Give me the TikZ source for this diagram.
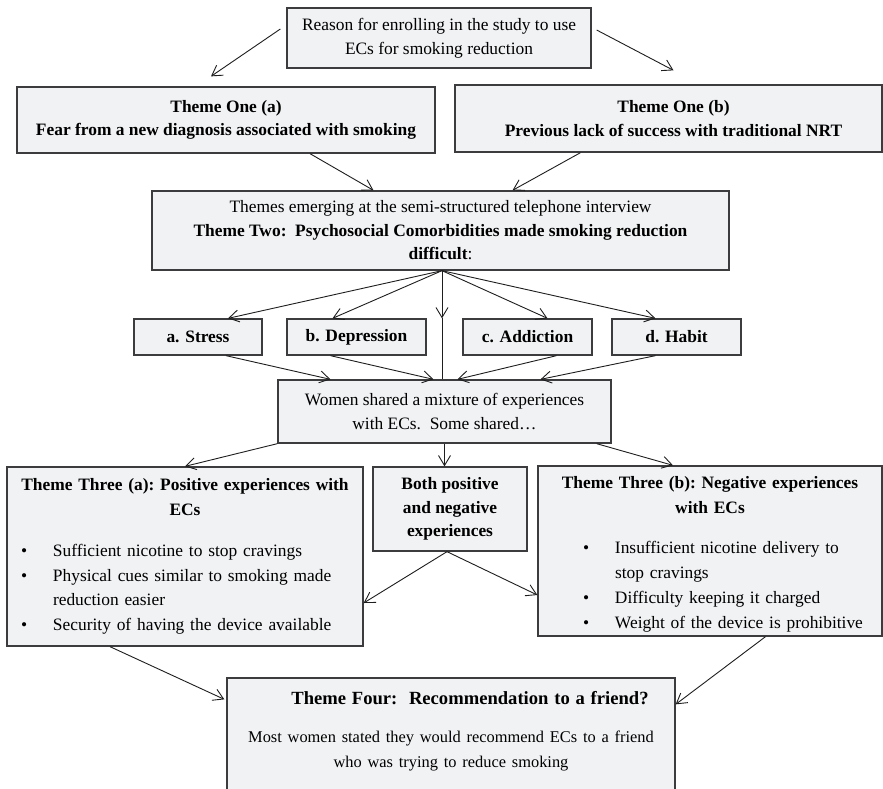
\documentclass[tikz,border=0pt]{standalone}
\usepackage{fontspec}
\setmainfont{Liberation Serif}
\usetikzlibrary{arrows.meta,positioning,calc}
\definecolor{boxfill}{RGB}{241,242,244}
\definecolor{boxline}{RGB}{60,60,62}
\definecolor{ink}{RGB}{30,30,30}
\tikzset{
  >={Straight Barb[length=10pt,width=12pt]},
  box/.style={draw=boxline,fill=boxfill,line width=1.3pt,inner sep=0pt,align=center,
    font=\fontsize{17.4}{23.5}\selectfont\frenchspacing},
  theme/.style={box,font=\fontsize{17.4}{23.5}\selectfont\bfseries},
  listbox/.style={box,align=left,font=\fontsize{17.4}{#1}\selectfont\frenchspacing},
  listbox/.default=24.5,
  link/.style={line width=0.9pt,draw=ink},
  flow/.style={link,->},
}
% bullet line: #1 bullet indent, #2 text indent
\newcommand{\bitem}[3]{\par\hangindent=#2\hangafter=1\noindent\makebox[#2][l]{\hspace*{#1}\textbullet}#3}

\begin{document}
\begin{tikzpicture}[x=1pt,y=-1pt]
  \useasboundingbox (0,0) rectangle (883,788);
  \clip (0,0) rectangle (883,788);
  \fill[white] (0,0) rectangle (883,788);

  \node[box,minimum width=304,minimum height=60] (reason) at (439,38)
    {Reason for enrolling in the study to use\\ECs for smoking reduction};
  \node[theme,minimum width=418,minimum height=66] (onea) at (226,120)
    {Theme One (a)\\Fear from a new diagnosis associated with smoking};
  \node[theme,minimum width=427,minimum height=67] (oneb) at (668.5,118.5)
    {\hspace*{10pt}Theme One (b)\\\hspace*{10pt}Previous lack of success with traditional NRT};
  \node[box,minimum width=577,minimum height=79] (two) at (440.5,230.5)
    {Themes emerging at the semi-structured telephone interview\\
     \textbf{Theme Two:\ \ Psychosocial Comorbidities made smoking reduction}\\
     \textbf{difficult}:};
  \foreach \n/\x/\w/\t in {stress/198/128/a. Stress,depr/356.5/139/b. Depression,
      addic/527.5/129/c. Addiction,habit/676.5/129/d. Habit}
    \node[theme,minimum width=\w,minimum height=36] (\n) at (\x,337) {\t};
  \node[box,minimum width=333,minimum height=63] (women) at (444.5,411.5)
    {Women shared a mixture of experiences\\with ECs.\ \ Some shared…};
  \node[listbox,text width=340,minimum width=356,minimum height=179] (threea) at (185,556.5)
    {{\centering\bfseries Theme Three (a): Positive experiences with\\ECs\par}\vspace{17pt}
     \bitem{6pt}{38pt}{Sufficient nicotine to stop cravings}
     \bitem{6pt}{38pt}{Physical cues similar to smoking made\newline reduction easier}
     \bitem{6pt}{38pt}{Security of having the device available}};
  \node[theme,minimum width=154,minimum height=84] (both) at (450,509)
    {Both positive\\and negative\\experiences};
  \node[listbox=25,text width=328,minimum width=344,minimum height=170] (threeb) at (710,551)
    {{\centering\bfseries\rule{0pt}{19pt}Theme Three (b): Negative experiences\\with ECs\par}\vspace{15pt}
     \bitem{37pt}{69pt}{Insufficient nicotine delivery to\newline stop cravings}
     \bitem{37pt}{69pt}{Difficulty keeping it charged}
     \bitem{37pt}{69pt}{Weight of the device is prohibitive}};
  \node[box,text width=440,minimum width=448,minimum height=124] (four) at (451,740)
    {{\fontsize{18.6}{24}\selectfont\bfseries\hspace*{38pt}Theme Four:\ \ Recommendation to a friend?\par}\vspace{13pt}
     {\fontsize{16.4}{25}\selectfont Most women stated they would recommend ECs to a friend\\
     who was trying to reduce smoking\par}\vspace*{18pt}\hrule height 0pt};

  \draw[flow] ($(reason.west)+(-6,-9)$) -- ($(onea.north)+(-15,-10)$);
  \draw[flow] ($(reason.east)+(5,-8)$) -- ($(oneb.north)+(5,-14)$);
  \draw[flow] ($(onea.south)+(84,0)$) -- ($(two.north)+(-67,0)$);
  \draw[flow] ($(oneb.south)+(-88,0)$) -- ($(two.north)+(72,0)$);

  \coordinate (hub) at ($(two.south)+(1.5,0)$);
  \foreach \n/\dx in {stress/30,depr/-24,addic/20,habit/-21}
    \draw[flow] (hub) -- ($(\n.north)+(\dx,0)$);
  \draw[flow] (hub) -- (hub |- stress.north);
  \draw[link] (hub |- stress.north) -- (hub |- women.north);
  \foreach \n/\a/\b in {stress/28/-114,depr/-26/-11,addic/29/13,habit/-21/96}
    \draw[flow] ($(\n.south)+(\a,0)$) -- ($(women.north)+(\b,0)$);

  \draw[flow] (women.south west) -- (threea.north);
  \draw[flow] (women.south) -- (women.south |- both.north);
  \draw[flow] ($(women.south east)+(-15,0)$) -- ($(threeb.north)+(-37,0)$);
  \draw[flow] ($(both.south)+(-3,0)$) -- ($(threea.east)+(0,46.5)$);
  \draw[flow] ($(both.south)+(-3,0)$) -- ($(threeb.west)+(0,44)$);
  \draw[flow] ($(threea.south)+(-75,0)$) -- ($(four.north west)+(-2,22)$);
  \draw[flow] ($(threeb.south)+(55.5,0)$) -- ($(four.north east)+(0,27)$);
\end{tikzpicture}
\end{document}
